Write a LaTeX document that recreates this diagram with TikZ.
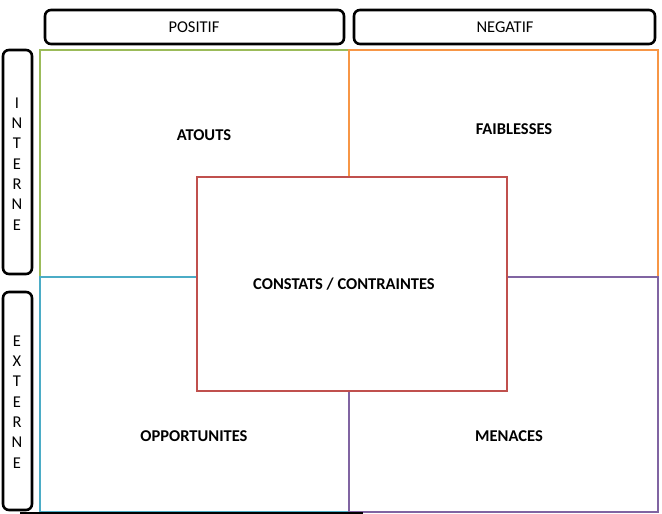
\documentclass[tikz,border=0pt]{standalone}
\usepackage{fontspec}
\setmainfont{Carlito}
\usepackage{tikz}

\definecolor{atoutsgreen}{HTML}{9BBB59}
\definecolor{faibleorange}{HTML}{F79646}
\definecolor{opporblue}{HTML}{4BACC6}
\definecolor{menacepurple}{HTML}{8064A2}
\definecolor{constatred}{HTML}{C0504D}

\begin{document}
\begin{tikzpicture}[x=1pt, y=-1pt,
    quad/.style={line width=2.6pt},
    tag/.style={draw=black, line width=2.6pt, rounded corners=6pt},
    lbl/.style={font=\fontsize{16.5}{20.3}\selectfont\bfseries},
    taglbl/.style={font=\fontsize{16.5}{20.3}\selectfont, align=center}]
            \useasboundingbox (0,0) rectangle (662,514);
            % quadrants
            \draw[quad, atoutsgreen] (40,50) rectangle (349,277);
            \draw[quad, faibleorange] (349,50) rectangle (658,277);
            \draw[quad, opporblue] (40,277) rectangle (349,512);
            \draw[quad, menacepurple] (349,277) rectangle (658,512);
            \coordinate (bl) at (20,512.5);
            \coordinate (br) at (363,512.5);
            \draw[line width=2pt, black] (bl) -- (br);
            % centre
            \draw[quad, constatred, fill=white] (197,177) rectangle (507,391);
            % side and top tags
            \draw[tag] (45,10) rectangle (344,44);
            \draw[tag] (354,10) rectangle (655,44);
            \draw[tag] (3,50) rectangle (32,274);
            \draw[tag] (3,292) rectangle (32,510);
            \node[taglbl] (positif) at (194,27) {POSITIF};
            \node[taglbl] (negatif) at (505,27) {NEGATIF};
            \node[taglbl] (interne) at (17,164) {I\\N\\T\\E\\R\\N\\E};
            \node[taglbl] (externe) at (17,402) {E\\X\\T\\E\\R\\N\\E};
            % labels
            \node[lbl] (atouts) at (204,135) {ATOUTS};
            \node[lbl] (faiblesses) at (514,129) {FAIBLESSES};
            \node[lbl] (constats) at (344,284) {CONSTATS / CONTRAINTES};
            \node[lbl] (opportunites) at (194,436) {OPPORTUNITES};
            \node[lbl] (menaces) at (509,436) {MENACES};
\end{tikzpicture}
\end{document}
